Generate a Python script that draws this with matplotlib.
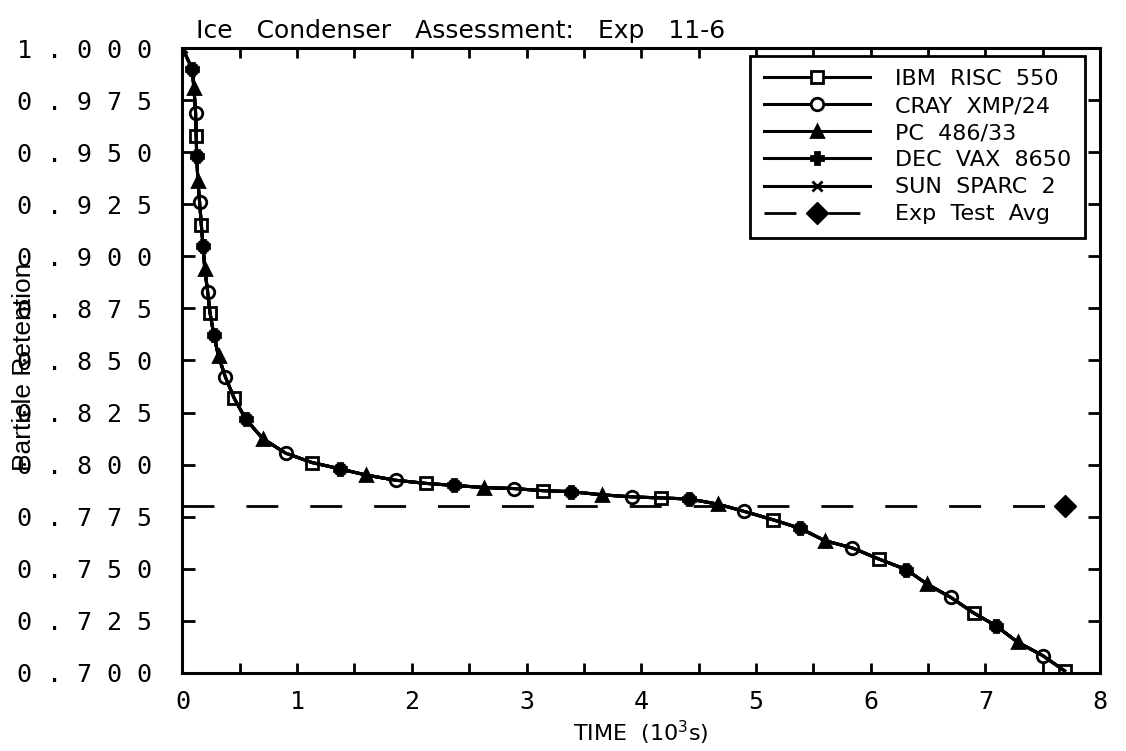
import matplotlib
matplotlib.use("Agg")
import matplotlib.pyplot as plt
from matplotlib.ticker import MultipleLocator, FuncFormatter

# Ice condenser assessment, Exp 11-6 (same code result on every machine)
time = [0.00, 0.085, 0.10, 0.115, 0.12, 0.125, 0.135, 0.15, 0.165, 0.18,
        0.195, 0.22, 0.24, 0.275, 0.315, 0.375, 0.45, 0.55, 0.70, 0.90,
        1.13, 1.37, 1.60, 1.86, 2.12, 2.37, 2.63, 2.89, 3.14, 3.39,
        3.66, 3.92, 4.17, 4.42, 4.67, 4.90, 5.15, 5.38, 5.60, 5.84,
        6.07, 6.31, 6.49, 6.70, 6.90, 7.09, 7.28, 7.50, 7.69]
retention = [1.000, 0.990, 0.981, 0.969, 0.958, 0.948, 0.936, 0.926, 0.915, 0.905,
             0.894, 0.883, 0.873, 0.862, 0.852, 0.842, 0.832, 0.822, 0.8125, 0.8055,
             0.801, 0.798, 0.795, 0.7925, 0.791, 0.790, 0.789, 0.7885, 0.7875, 0.787,
             0.7855, 0.7845, 0.784, 0.7835, 0.781, 0.7775, 0.7735, 0.7695, 0.7635, 0.760,
             0.7547, 0.7496, 0.7427, 0.7362, 0.7287, 0.7227, 0.7148, 0.7083, 0.701]

exp_time = [0.0, 7.69]
exp_avg = [0.780, 0.780]

labels = ["IBM  RISC  550", "CRAY  XMP/24", "PC  486/33", "DEC  VAX  8650", "SUN  SPARC  2"]
markers = ["s", "o", "^", "P", "x"]
# which sample points carry each machine's symbol
mark_idx = [list(range(4, 49, 4)), list(range(3, 49, 4)), list(range(2, 49, 4)),
            list(range(1, 49, 4)), [0] + list(range(1, 49, 4))]

fig = plt.figure(figsize=(11.26, 7.51), dpi=100)
ax = fig.add_axes([0.162, 0.104, 0.815, 0.832])

for lab, mk, idx in zip(labels, markers, mark_idx):
    hollow = mk in ("s", "o")
    ax.plot(time, retention, color="black", lw=2.2, marker=mk, markevery=idx,
            markersize=9 if mk != "x" else 7,
            markerfacecolor="white" if hollow else "black",
            markeredgecolor="black", markeredgewidth=2, label=lab)

ax.plot(exp_time, exp_avg, color="black", lw=2, linestyle=(0, (11.5, 11.5)),
        marker="D", markevery=[1], markersize=11, label="Exp  Test  Avg")

ax.set_xlim(0, 8)
ax.set_ylim(0.700, 1.000)
ax.xaxis.set_major_locator(MultipleLocator(1))
ax.xaxis.set_minor_locator(MultipleLocator(0.5))
ax.yaxis.set_major_locator(MultipleLocator(0.025))
ax.yaxis.set_major_formatter(FuncFormatter(lambda v, p: " ".join(f"{v:.3f}")))

for s in ax.spines.values():
    s.set_linewidth(2.2)
ax.tick_params(which="both", direction="in", top=True, right=True,
               length=7, width=2)
ax.tick_params(axis="y", length=9, pad=22)
ax.tick_params(axis="x", pad=12)
for t in ax.get_xticklabels() + ax.get_yticklabels():
    t.set_family("DejaVu Sans Mono")
    t.set_fontsize(18)

ax.text(0.015, 1.008, "Ice   Condenser   Assessment:   Exp   11-6", transform=ax.transAxes,
        fontsize=18, family="DejaVu Sans", va="bottom", ha="left")
ax.set_xlabel("TIME  (10$^3$s)", fontsize=16, family="DejaVu Sans")
ax.xaxis.set_label_coords(0.5, -0.074)
ax.set_ylabel("Particle Retention", fontsize=19, family="Liberation Sans")
ax.yaxis.set_label_coords(-0.16, 0.49)

leg = ax.legend(loc="upper right", bbox_to_anchor=(0.983, 0.988), borderaxespad=0,
                fancybox=False, edgecolor="black", framealpha=1,
                prop={"family": "DejaVu Sans", "size": 16},
                handlelength=4.8, handletextpad=1.1, labelspacing=0.32,
                borderpad=0.6)
leg.get_frame().set_linewidth(2)

fig.savefig("out.png", dpi=100)
